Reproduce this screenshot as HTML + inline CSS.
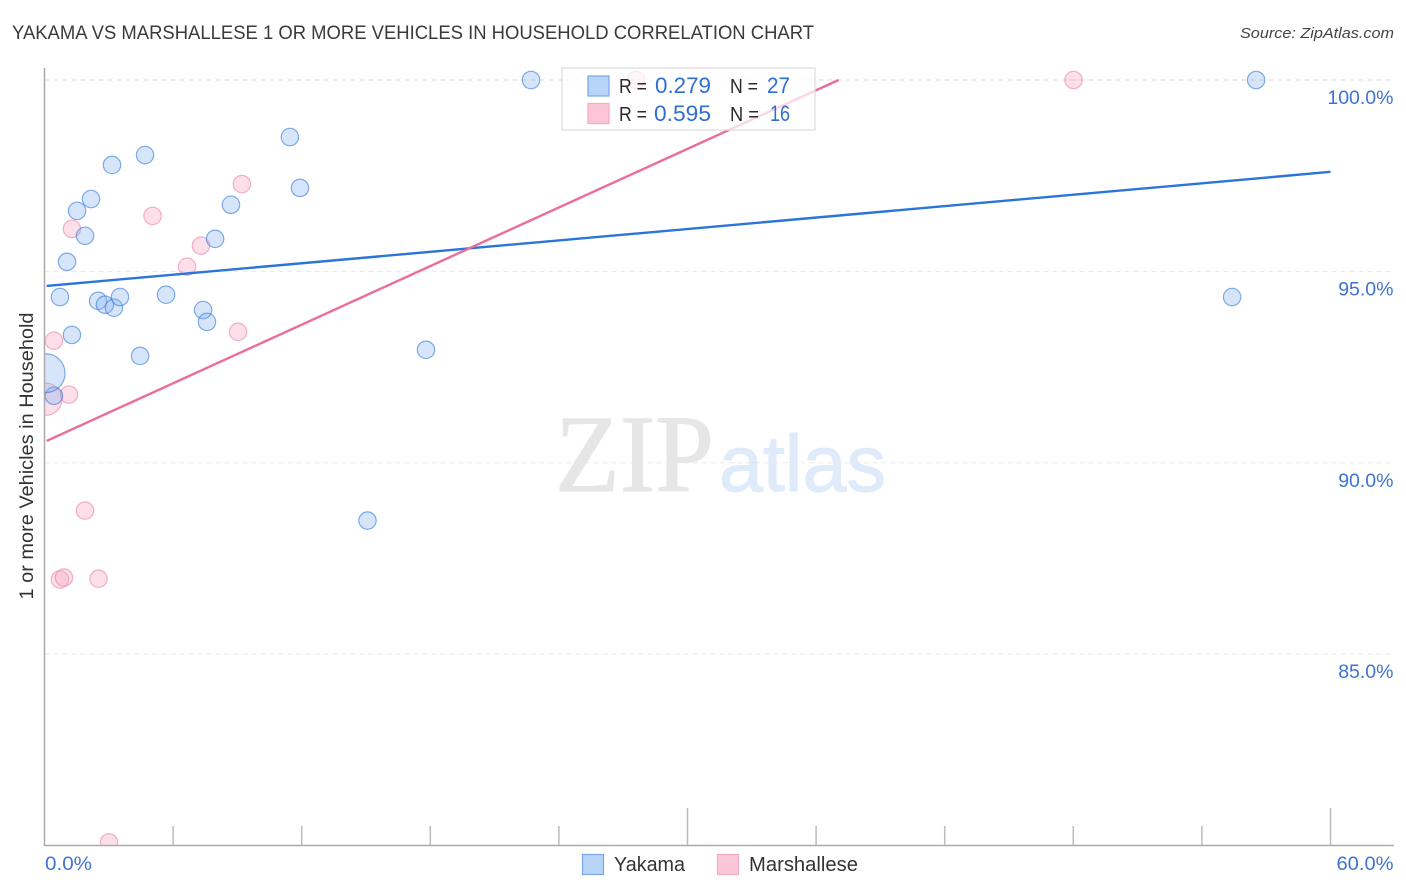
<!DOCTYPE html>
<html>
<head>
<meta charset="utf-8">
<title>Yakama vs Marshallese correlation chart</title>
<style>
html,body{margin:0;padding:0;background:#fff;width:1406px;height:892px;overflow:hidden}
svg{display:block;font-family:"Liberation Sans",sans-serif}
</style>
</head>
<body>
<svg id="chart" width="1406" height="892" viewBox="0 0 1406 892" xmlns="http://www.w3.org/2000/svg">
  <defs>
    <clipPath id="plot-clip"><rect x="44.5" y="64" width="1350" height="781"/></clipPath>
  </defs>
  <rect x="0" y="0" width="1406" height="892" fill="#fff"/>
  <text x="12" y="39" font-size="19" fill="#3a3a3a" textLength="802" lengthAdjust="spacingAndGlyphs">YAKAMA VS MARSHALLESE 1 OR MORE VEHICLES IN HOUSEHOLD CORRELATION CHART</text>
  <text x="1394" y="38" font-size="15" font-style="italic" text-anchor="end" fill="#444" textLength="154" lengthAdjust="spacingAndGlyphs">Source: ZipAtlas.com</text>

  <g>
    <text x="555" y="491" font-family="'Liberation Serif',serif" font-size="110" fill="#e6e6e6" stroke="#e6e6e6" stroke-width="1" textLength="159" lengthAdjust="spacingAndGlyphs">ZIP</text>
    <text x="719" y="491" font-size="80" fill="#dfeafa" stroke="#dfeafa" stroke-width="1" textLength="167" lengthAdjust="spacingAndGlyphs">atlas</text>
  </g>

  <g id="grid"></g>
  <g id="marks" clip-path="url(#plot-clip)"></g>
  <rect x="0" y="60" width="44.5" height="790" fill="#fff"/>
  <rect x="0" y="846" width="1406" height="6" fill="#fff"/>
  <g id="axes"></g>
  <g id="lines"></g>

  <text transform="translate(33,456) rotate(-90)" font-size="19" text-anchor="middle" fill="#333" textLength="287" lengthAdjust="spacingAndGlyphs">1 or more Vehicles in Household</text>

  <g>
    <rect x="562" y="68" width="253" height="62" fill="#fff" fill-opacity="0.72" stroke="#dcdcdc" stroke-width="1.2"/>
    <rect x="588" y="76" width="21" height="20" fill="#b9d4f9" stroke="#78a6e8" stroke-width="1.2"/>
    <rect x="588" y="103.5" width="21" height="20" fill="#fcc6d8" stroke="#f2aac2" stroke-width="1.2"/>
    <g font-size="20" fill="#2b2b2b">
      <text x="619" y="93" textLength="28" lengthAdjust="spacingAndGlyphs">R =</text>
      <text x="730" y="93" textLength="28" lengthAdjust="spacingAndGlyphs">N =</text>
      <text x="619" y="121" textLength="28" lengthAdjust="spacingAndGlyphs">R =</text>
      <text x="730" y="121" textLength="29" lengthAdjust="spacingAndGlyphs">N =</text>
    </g>
    <g font-size="22" fill="#2f6fd0">
      <text x="655" y="93" textLength="56" lengthAdjust="spacingAndGlyphs">0.279</text>
      <text x="767" y="93" textLength="23" lengthAdjust="spacingAndGlyphs">27</text>
      <text x="654" y="121" textLength="57" lengthAdjust="spacingAndGlyphs">0.595</text>
      <text x="770" y="121" textLength="20" lengthAdjust="spacingAndGlyphs">16</text>
    </g>
  </g>

  <g>
    <rect x="582.5" y="854.5" width="21" height="20" fill="#b9d4f9" stroke="#78a6e8" stroke-width="1.2"/>
    <text x="614" y="871" font-size="20" fill="#333" textLength="71" lengthAdjust="spacingAndGlyphs">Yakama</text>
    <rect x="717.5" y="854.5" width="21" height="20" fill="#fcc6d8" stroke="#f2aac2" stroke-width="1.2"/>
    <text x="749" y="871" font-size="20" fill="#333" textLength="109" lengthAdjust="spacingAndGlyphs">Marshallese</text>
  </g>
</svg>
<script>
// Chart data (percent values)
const yTickValues = [100, 95, 90, 85];
const yTickLabels = ["100.0%", "95.0%", "90.0%", "85.0%"];
const xTickValues = [0, 6, 12, 18, 24, 30, 36, 42, 48, 54, 60];
const xEndValues = [0, 60];
const xEndLabels = ["0.0%", "60.0%"];

const yakamaX = [22.70, 56.53, 11.45, 4.69, 3.15, 11.92, 2.17, 1.52, 8.70, 1.89, 7.96, 1.05, 0.72, 2.50, 2.82, 3.24, 3.52, 5.67, 7.40, 7.58, 1.28, 4.46, 17.80, 55.41, 0.44, 0.05, 15.07];
const yakamaY = [100, 100, 98.51, 98.04, 97.78, 97.18, 96.89, 96.58, 96.74, 95.93, 95.85, 95.25, 94.33, 94.23, 94.13, 94.05, 94.33, 94.39, 93.99, 93.68, 93.34, 92.79, 92.95, 94.33, 91.75, 92.34, 88.49];
const yakamaWeight = [1, 1, 1, 1, 1, 1, 1, 1, 1, 1, 1, 1, 1, 1, 1, 1, 1, 1, 1, 1, 1, 1, 1, 1, 1, 5, 1];

const marshalleseX = [27.60, 48.01, 9.21, 5.04, 1.28, 7.30, 6.65, 9.03, 0.44, 1.14, 0.07, 1.89, 0.72, 0.91, 2.52, 3.01];
const marshalleseY = [100, 100, 97.28, 96.45, 96.11, 95.67, 95.12, 93.42, 93.19, 91.78, 91.66, 88.75, 86.95, 87.00, 86.97, 80.08];
const marshalleseWeight = [1, 1, 1, 1, 1, 1, 1, 1, 1, 1, 3.4, 1, 1, 1, 1, 1];

const yakamaTrendX = [0.1, 60];
const yakamaTrendY = [94.62, 97.60];
const marshalleseTrendX = [0.1, 37.05];
const marshalleseTrendY = [90.57, 100];

// Axis functions
const xScale = v => 44.5 + (v - 0) * (1330.5 - 44.5) / 60;
const yScale = v => 80 + (100 - v) * (845.5 - 80) / 20;
const radius = w => 8.7 * Math.sqrt(w);

const NS = 'http://www.w3.org/2000/svg';
function make(tag, parent, props) {
  const el = document.createElementNS(NS, tag);
  for (const k in props) el.setAttribute(k, props[k]);
  parent.appendChild(el);
  return el;
}

const grid = document.getElementById('grid');
const axes = document.getElementById('axes');
const marks = document.getElementById('marks');
const lines = document.getElementById('lines');

// Gridlines and y labels
yTickValues.forEach((v, i) => {
  const line = make('line', grid, {
    x1: 44.5, x2: 1394, y1: yScale(v), y2: yScale(v),
    stroke: i === 0 ? '#d6d6d6' : '#e8e8e8',
    'stroke-width': 1,
    'stroke-dasharray': '5 4'
  });
  
  
  const label = make('text', axes, {
    x: 1393.5, y: yScale(v) + 24,
    'text-anchor': 'end',
    'font-size': 19.5,
    fill: '#3f73d2'
  });
  label.textContent = yTickLabels[i];
  
  
});

// Axis lines
const yAxis = make('line', axes, { x1: 44.5, x2: 44.5, y1: 68, y2: 846, stroke: '#aaa', 'stroke-width': 1.5 });


const xAxis = make('line', axes, { x1: 44, x2: 1394, y1: 845.5, y2: 845.5, stroke: '#aaa', 'stroke-width': 1.5 });



// X ticks: middle and last ticks are taller
xTickValues.forEach(v => {
  if (v === 0) return;
  const tall = v === 30 || v === 60;
  const tick = make('line', axes, {
    x1: xScale(v), x2: xScale(v), y1: tall ? 808 : 826, y2: 845,
    stroke: '#bbb', 'stroke-width': 1.5
  });
  
  
});

// X labels
xEndValues.forEach((v, i) => {
  const label = make('text', axes, {
    x: i === 0 ? 45 : 1393.5,
    y: 870,
    'text-anchor': i === 0 ? 'start' : 'end',
    'font-size': 19.5,
    fill: '#3f73d2',
    textLength: i === 0 ? 47 : 57,
    lengthAdjust: 'spacingAndGlyphs'
  });
  label.textContent = xEndLabels[i];
  
  
});

// Points
function drawMarshallese() {
  marshalleseX.forEach((x, i) => {
    const c = make('circle', marks, {
      cx: xScale(x), cy: yScale(marshalleseY[i]), r: radius(marshalleseWeight[i]),
      fill: 'rgba(248,170,195,0.38)', stroke: 'rgba(236,130,165,0.6)', 'stroke-width': 1.2
    });
    
    
  });
}
function drawYakama() {
  yakamaX.forEach((x, i) => {
    const c = make('circle', marks, {
      cx: xScale(x), cy: yScale(yakamaY[i]), r: radius(yakamaWeight[i]),
      fill: 'rgba(130,175,240,0.33)', stroke: 'rgba(50,120,220,0.6)', 'stroke-width': 1.2
    });
    
    
  });
}
drawMarshallese();
drawYakama();

// Trend lines
const blueLine = make('line', lines, {
  x1: xScale(yakamaTrendX[0]), y1: yScale(yakamaTrendY[0]),
  x2: xScale(yakamaTrendX[1]), y2: yScale(yakamaTrendY[1]),
  stroke: '#2b74d8', 'stroke-width': 2.4
});


const pinkLine = make('line', lines, {
  x1: xScale(marshalleseTrendX[0]), y1: yScale(marshalleseTrendY[0]),
  x2: xScale(marshalleseTrendX[1]), y2: yScale(marshalleseTrendY[1]),
  stroke: '#ea6d9a', 'stroke-width': 2.4
});


</script>
</body>
</html>
